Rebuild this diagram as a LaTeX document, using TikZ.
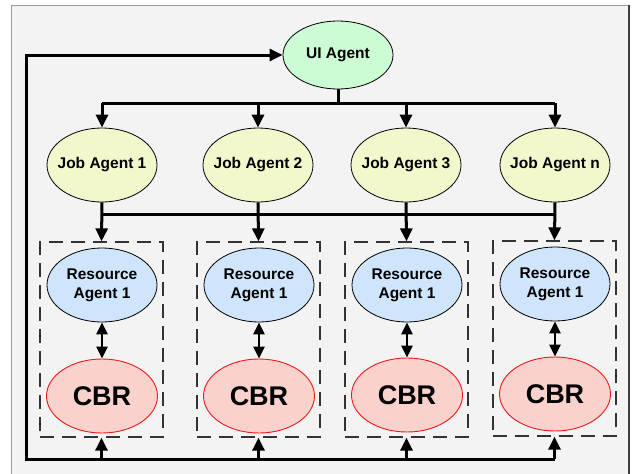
\documentclass[tikz,border=0pt]{standalone}
\usepackage{fontspec}
\setmainfont{Liberation Sans}
\usetikzlibrary{shapes.geometric,arrows.meta}

\definecolor{panelbg}{HTML}{F3F3F3}
\definecolor{panelline}{HTML}{9A9A9A}
\definecolor{panelshadow}{HTML}{404040}
\definecolor{uifill}{HTML}{CCFCD4}
\definecolor{jobfill}{HTML}{F3F8CC}
\definecolor{resfill}{HTML}{CFE5FB}
\definecolor{cbrfill}{HTML}{F9D1CD}
\definecolor{cbrline}{HTML}{F01818}
\definecolor{boxline}{HTML}{333333}

\tikzset{
  agent/.style={ellipse, draw=black, line width=0.8pt, minimum width=110pt,
    inner xsep=-8pt, inner ysep=0pt, align=center,
    font=\fontsize{15.5}{19}\selectfont\bfseries},
  uiagent/.style={agent, fill=uifill, minimum height=68pt},
  jobagent/.style={agent, fill=jobfill, minimum height=74pt},
  resagent/.style={agent, fill=resfill, minimum height=74pt},
  cbr/.style={ellipse, draw=cbrline, line width=0.9pt, fill=cbrfill,
    minimum width=111pt, minimum height=74pt, inner sep=0pt,
    font=\fontsize{27}{30}\selectfont\bfseries},
  group/.style={draw=boxline, line width=1.3pt, dash pattern=on 14pt off 8pt,
    minimum width=123pt, minimum height=195pt, inner sep=0pt},
  bus/.style={line width=3pt, draw=black},
  flow/.style={line width=3pt, draw=black,
    -{Triangle[length=13pt,width=12pt]}},
  link/.style={line width=2.5pt, draw=black,
    {Triangle[length=12pt,width=11pt]}-{Triangle[length=12pt,width=11pt]}},
}

\begin{document}
\begin{tikzpicture}[x=1pt,y=-1pt]
  \useasboundingbox (0,0) rectangle (632,474);
  \fill[white] (0,0) rectangle (632,474);
  % panel
  \fill[panelbg] (11,5) rectangle (629,480);
  \draw[panelline, line width=1pt] (11,480) -- (11,5) -- (629,5);
  \draw[panelshadow, line width=2pt] (629,5) -- (629,480);

  % user interface agent
  \node[uiagent] (ui) at (338,55) {UI Agent};

  % job agents
  \node[jobagent] (j1) at (102,165) {Job Agent 1};
  \node[jobagent] (j2) at (258,165) {Job Agent 2};
  \node[jobagent] (j3) at (406,165) {Job Agent 3};
  \node[jobagent] (j4) at (555,165) {Job Agent n};

  % resource groups
  \node[group] (g1) at (101.5,339.5) {};
  \node[group] (g2) at (258.5,339.5) {};
  \node[group] (g3) at (406.5,339.5) {};
  \node[group] (g4) at (554.5,338.5) {};

  \node[resagent] (r1) at (102,285) {Resource\\Agent 1};
  \node[resagent] (r2) at (259,285) {Resource\\Agent 1};
  \node[resagent] (r3) at (407,285) {Resource\\Agent 1};
  \node[resagent] (r4) at (555,284) {Resource\\Agent 1};

  \node[cbr] (c1) at (102,396) {CBR};
  \node[cbr] (c2) at (259,396) {CBR};
  \node[cbr] (c3) at (407,395) {CBR};
  \node[cbr] (c4) at (555,394) {CBR};

  % bus below the UI agent
  \coordinate (topbus) at (0,103);
  \draw[bus] (ui.south) -- (ui.south |- topbus);
  \draw[bus] (j1.north |- topbus) -- (j4.north |- topbus);
  \foreach \j in {j1,j2,j3,j4}
    \draw[flow] (\j.north |- topbus) -- (\j.north);

  % bus below the job agents
  \coordinate (midbus) at (0,214);
  \draw[bus] (j1.south |- midbus) -- (j4.south |- midbus);
  \foreach \j/\g in {j1/g1,j2/g2,j3/g3,j4/g4}
    \draw[flow] (\j.south) -- (\g.north);

  % resource agent <-> case base
  \foreach \r/\c in {r1/c1,r2/c2,r3/c3,r4/c4}
    \draw[link] (\r.south) -- (\c.north);

  % feedback bus to the UI agent
  \coordinate (lowbus) at (26,459);
  \foreach \g in {g1,g2,g3,g4}
    \draw[flow] (\g.south |- lowbus) -- (\g.south);
  \draw[flow] (g4.south |- lowbus) -- (lowbus) |- (ui.west);
\end{tikzpicture}
\end{document}
